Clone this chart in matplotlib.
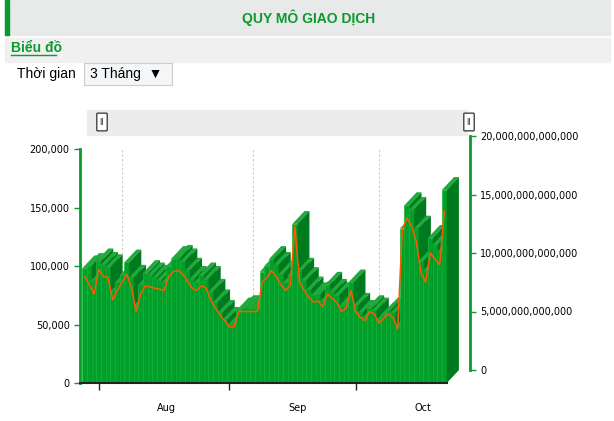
import matplotlib
matplotlib.use("Agg")
import matplotlib.pyplot as plt
from matplotlib.patches import Polygon, Rectangle, FancyBboxPatch
import numpy as np

# trading value (right axis, trillion VND) and volume-like bars (left axis)
line_vals = [8.0,7.3,6.5,8.6,8.0,7.9,6.0,6.8,7.5,8.2,7.1,5.0,6.5,7.2,7.1,7.0,6.9,6.8,8.0,8.4,
             8.5,8.2,7.6,7.0,6.8,7.2,7.0,6.0,5.3,4.7,4.2,3.7,3.7,5.0,5.0,5.0,5.0,5.0,7.5,7.9,
             8.5,8.0,7.3,6.8,7.2,12.3,7.5,6.8,6.2,5.8,5.9,5.4,6.5,6.1,5.8,5.0,5.3,6.8,5.0,4.5,
             4.2,5.0,4.8,4.0,4.4,4.8,4.5,3.5,12.0,13.0,12.3,11.0,8.3,7.5,10.0,9.5,9.0,13.6]
bar_vals = [98,100,88,104,101,99,78,86,92,103,90,66,84,94,92,90,88,86,100,106,
            107,104,96,89,86,92,89,78,69,60,54,49,49,62,64,64,64,64,95,100,
            106,101,93,86,92,136,96,88,80,75,76,70,84,78,75,66,69,86,66,60,
            56,64,62,54,58,62,60,48,132,152,148,132,104,96,124,118,112,165]
bar_vals = [v * 1000 for v in bar_vals]
month_labels = ["Aug", "Sep", "Oct"]
month_tick_idx = [3, 31, 58]
grid_idx = [8, 36, 63]

W, H = 614, 421
fig = plt.figure(figsize=(W / 100, H / 100), dpi=100)

def fx(p): return p / W
def fy(p): return 1 - p / H

# header
fig.patches.append(Rectangle((fx(5), fy(35)), fx(605), 35 / H, transform=fig.transFigure, color="#e8e9e9", zorder=0))
fig.patches.append(Rectangle((fx(5), fy(35)), fx(4), 35 / H, transform=fig.transFigure, color="#0a9a2e", zorder=1))
fig.text(fx(309), fy(18), "QUY MÔ GIAO DỊCH", color="#0a9a2e", fontsize=10, fontweight="bold",
         ha="center", va="center", family="Liberation Sans")
fig.patches.append(Rectangle((fx(5), fy(62)), fx(605), 24 / H, transform=fig.transFigure, color="#f0f0f0", zorder=0))
fig.text(fx(11), fy(48), "Biểu đồ", color="#0a9a2e", fontsize=10, fontweight="bold",
         ha="left", va="center", family="Liberation Sans")
fig.lines.append(plt.Line2D([fx(11), fx(56)], [fy(55), fy(55)], transform=fig.transFigure, color="#0a9a2e", lw=1))
fig.text(fx(17), fy(74), "Thời gian", fontsize=10, ha="left", va="center", family="Liberation Sans")
fig.patches.append(Rectangle((fx(84), fy(85)), fx(88), 22 / H, transform=fig.transFigure,
                             facecolor="#f4f6f8", edgecolor="#cccccc", lw=0.8))
fig.text(fx(90), fy(74), "3 Tháng  ▼", fontsize=10, ha="left", va="center", family=["Liberation Sans", "DejaVu Sans"])

# slider
fig.patches.append(Rectangle((fx(87), fy(135)), fx(380), 25 / H, transform=fig.transFigure, color="#ececec", zorder=0))
for hx in (102, 469):
    fig.patches.append(FancyBboxPatch((fx(hx - 4), fy(130)), fx(8), 16 / H, boxstyle="round,pad=0.002",
                                      transform=fig.transFigure, facecolor="white", edgecolor="#444444", lw=1))
    fig.text(fx(hx), fy(122), "ll", fontsize=6, ha="center", va="center", color="#333333")

# main axes
left, right, bottom, top = 80, 470, 383, 149
ax = fig.add_axes([fx(left), fy(bottom), fx(right - left), (bottom - top) / H])
n = len(bar_vals)
x = np.arange(n)
ax.set_xlim(-1, n + 4.5)
ax.set_ylim(0, 200000)
dx, dy = 2.6, 11000
w = 1.05
for i, v in enumerate(bar_vals):
    z = 2 + i * 0.01
    ax.add_patch(Rectangle((i - w / 2, 0), w, v, facecolor="#00a02a", edgecolor="#1bb83f", lw=0.5, zorder=z))
    ax.add_patch(Polygon([(i - w / 2, v), (i + w / 2, v), (i + w / 2 + dx, v + dy), (i - w / 2 + dx, v + dy)],
                         closed=True, facecolor="#1faa3b", edgecolor="none", zorder=z))
    ax.add_patch(Polygon([(i + w / 2, 0), (i + w / 2 + dx, dy), (i + w / 2 + dx, v + dy), (i + w / 2, v)],
                         closed=True, facecolor="#007a1e", edgecolor="none", zorder=z))
for g in grid_idx:
    ax.axvline(g, color="#cccccc", ls=(0, (2, 2)), lw=0.8, zorder=1)
ax.plot([-1, n - 0.5], [0, 0], color="#222222", lw=1.5, zorder=5, clip_on=False)
for s in ("top", "right", "bottom"):
    ax.spines[s].set_visible(False)
ax.spines["left"].set_color("#0a9a2e")
ax.spines["left"].set_linewidth(2)
ax.set_yticks([0, 50000, 100000, 150000, 200000])
ax.set_yticklabels(["0", "50,000", "100,000", "150,000", "200,000"], fontsize=7)
ax.tick_params(axis="y", colors="#0a9a2e", labelcolor="black", length=4, width=1)
ax.set_xticks(month_tick_idx)
ax.set_xticklabels([])
ax.tick_params(axis="x", length=5, width=1, color="#222222", direction="out")
for lab, ix in zip(month_labels, month_tick_idx):
    ax.text(ix + 14.5, -17000, lab, fontsize=7, ha="center", va="top")

# right axis (shifted for 3D depth)
ax2 = fig.add_axes([fx(left), fy(370), fx(right - left), (370 - 136) / H])
ax2.patch.set_visible(False)
ax2.set_xlim(ax.get_xlim())
ax2.set_ylim(0, 20e12)
ax2.plot(x, [v * 1e12 for v in line_vals], color="#ff5a00", lw=1.1, zorder=10)
for s in ("top", "left", "bottom"):
    ax2.spines[s].set_visible(False)
ax2.spines["right"].set_color("#0a9a2e")
ax2.spines["right"].set_linewidth(2)
ax2.set_xticks([])
ax2.yaxis.tick_right()
ax2.set_yticks([0, 5e12, 10e12, 15e12, 20e12])
ax2.set_yticklabels(["0", "5,000,000,000,000", "10,000,000,000,000", "15,000,000,000,000", "20,000,000,000,000"], fontsize=7)
ax2.tick_params(axis="y", colors="#0a9a2e", labelcolor="black", length=4, width=1)

fig.savefig("out.png", dpi=100)
